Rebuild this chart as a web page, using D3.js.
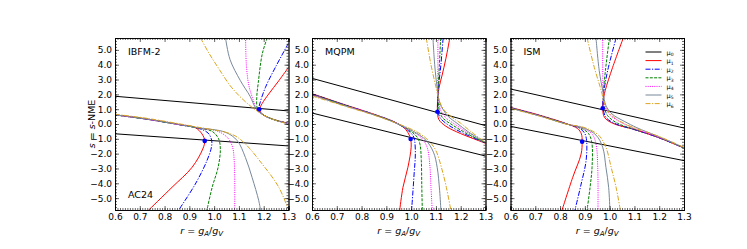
<!DOCTYPE html>
<html lang="en">
  <head>
    <meta charset="UTF-8" />
    <title>s-NME against gA/gV</title>
    <style>
      body {
        margin: 0;
        background: #fff;
      }
      svg {
        display: block;
        font-family: "DejaVu Sans", sans-serif;
      }
      .axis .domain {
        stroke: #000;
        stroke-width: 0.8;
      }
      .axis .tick line {
        stroke: #000;
        stroke-width: 0.6;
      }
      .axis text {
        font-family: "DejaVu Sans", sans-serif;
        font-size: 9px;
        fill: #000;
      }
    </style>
  </head>
  <body>
    <svg id="chart"></svg>
    <script src="https://d3js.org/d3.v7.min.js"></script>
    <script>
      // ticks and series
      const xTicks = [0.6, 0.7, 0.8, 0.9, 1.0, 1.1, 1.2, 1.3];
      const yTicks = [-5, -4, -3, -2, -1, 0, 1, 2, 3, 4, 5];
      const seriesLabels = ["0", "1", "2", "3", "4", "5", "6"];
      const seriesColors = ["#000", "red", "blue", "green", "#ff00ff", "lightslategray", "goldenrod"];
      const seriesDash = [null, null, "5,1.5,1.2,1.5", "3,1.3", "1,1.2", null, "5,1.5,1.2,1.5"];

      // IBFM-2 ([r, s])
      const ibfmMu0 = [
        [[0.6, 1.87], [1.3, 0.88]],
        [[0.6, -0.66], [1.3, -1.48]],
      ];
      const ibfmLower = [
        [[0.6, 0.62], [0.722, 0.35], [0.857, -0.03], [0.924, -0.25], [0.951, -0.67], [0.962, -1.14], [0.954, -1.69], [0.911, -2.92], [0.83, -4.27], [0.736, -5.8]],
        [[0.6, 0.61], [0.722, 0.34], [0.857, -0.04], [0.935, -0.28], [0.975, -0.6], [0.99, -1.1], [0.989, -1.57], [0.971, -2.47], [0.924, -4.05], [0.857, -5.8]],
        [[0.6, 0.61], [0.722, 0.34], [0.857, -0.04], [0.93, -0.26], [0.992, -0.5], [1.018, -1.0], [1.025, -1.69], [1.016, -2.92], [0.992, -4.27], [0.971, -5.8]],
        [[0.6, 0.61], [0.722, 0.34], [0.857, -0.04], [0.93, -0.25], [1.019, -0.52], [1.058, -1.0], [1.075, -1.6], [1.081, -2.5], [1.083, -3.5], [1.083, -5.8]],
        [[0.6, 0.62], [0.722, 0.35], [0.857, -0.03], [0.93, -0.24], [1.046, -0.56], [1.093, -1.12], [1.126, -2.25], [1.153, -3.6], [1.18, -5.17], [1.187, -5.8]],
        [[0.6, 0.66], [0.722, 0.4], [0.857, 0.02], [0.93, -0.2], [1.072, -0.7], [1.12, -1.25], [1.194, -2.7], [1.261, -4.27], [1.3, -5.8]],
      ];
      const ibfmUpper = [
        [[1.3, 3.82], [1.261, 2.92], [1.22, 2.02], [1.194, 1.39], [1.184, 0.99], [1.194, 0.67], [1.234, 0.34], [1.3, 0.05]],
        [[1.3, 5.45], [1.247, 3.82], [1.207, 2.47], [1.184, 1.35], [1.18, 0.9], [1.2, 0.6], [1.24, 0.3], [1.3, 0.04]],
        [[1.214, 5.8], [1.194, 4.72], [1.178, 2.78], [1.172, 1.8], [1.175, 1.0], [1.195, 0.66], [1.237, 0.32], [1.3, 0.03]],
        [[1.127, 5.8], [1.13, 4.0], [1.14, 2.6], [1.158, 1.6], [1.172, 0.95], [1.197, 0.64], [1.24, 0.3], [1.3, 0.02]],
        [[1.046, 5.8], [1.064, 4.35], [1.106, 2.92], [1.145, 1.87], [1.167, 1.1], [1.195, 0.64], [1.24, 0.29], [1.3, 0.01]],
        [[0.945, 5.8], [0.98, 4.75], [1.02, 3.7], [1.064, 2.6], [1.104, 1.85], [1.14, 1.3], [1.167, 0.95], [1.2, 0.6], [1.245, 0.27], [1.3, 0.0]],
      ];
      const ibfmDots = [[0.962, -1.14], [1.182, 0.99]];

      // MQPM
      const mqpmMu0 = [
        [[0.6, 3.08], [1.3, -0.11]],
        [[0.6, 0.74], [1.3, -2.16]],
      ];
      const mqpmLower = [
        [[0.6, 2.05], [0.718, 1.38], [0.853, 0.64], [0.934, 0.13], [0.974, -0.3], [0.99, -0.67], [0.998, -1.01], [1.0, -1.57], [0.987, -2.92], [0.967, -4.27], [0.954, -5.8]],
        [[0.6, 2.03], [0.718, 1.36], [0.853, 0.63], [0.934, 0.12], [0.985, -0.4], [1.008, -0.8], [1.014, -1.12], [1.017, -2.02], [1.012, -3.37], [1.002, -5.8]],
        [[0.6, 2.01], [0.718, 1.35], [0.853, 0.62], [0.934, 0.11], [0.995, -0.45], [1.025, -0.9], [1.036, -1.4], [1.041, -2.47], [1.043, -4.27], [1.045, -5.8]],
        [[0.6, 1.98], [0.718, 1.33], [0.853, 0.61], [0.934, 0.1], [1.005, -0.5], [1.045, -1.0], [1.065, -1.6], [1.075, -2.7], [1.08, -4.27], [1.085, -5.8]],
        [[0.6, 1.95], [0.718, 1.31], [0.853, 0.6], [0.934, 0.09], [1.015, -0.55], [1.06, -1.1], [1.09, -1.9], [1.105, -2.92], [1.115, -4.5], [1.12, -5.8]],
        [[0.6, 1.89], [0.718, 1.28], [0.853, 0.58], [0.934, 0.1], [1.03, -0.6], [1.075, -1.2], [1.1, -1.8], [1.122, -2.92], [1.142, -4.27], [1.16, -5.8]],
      ];
      const mqpmUpper = [
        [[1.156, 5.8], [1.14, 4.4], [1.125, 3.3], [1.112, 2.4], [1.107, 1.6], [1.106, 0.85], [1.112, 0.3], [1.14, -0.15], [1.2, -0.65], [1.25, -0.98], [1.3, -1.3]],
        [[1.129, 5.8], [1.12, 4.0], [1.11, 2.4], [1.107, 1.4], [1.11, 0.7], [1.12, 0.35], [1.155, -0.12], [1.21, -0.62], [1.3, -1.28]],
        [[1.119, 5.8], [1.114, 4.0], [1.109, 2.3], [1.11, 1.4], [1.115, 0.8], [1.128, 0.4], [1.165, -0.05], [1.22, -0.6], [1.3, -1.27]],
        [[1.108, 5.8], [1.108, 4.0], [1.108, 2.3], [1.113, 1.4], [1.12, 0.9], [1.138, 0.45], [1.175, 0.0], [1.225, -0.55], [1.3, -1.26]],
        [[1.088, 5.8], [1.095, 4.0], [1.106, 2.3], [1.116, 1.4], [1.13, 0.95], [1.15, 0.5], [1.185, 0.05], [1.23, -0.52], [1.3, -1.25]],
        [[1.061, 5.8], [1.08, 4.0], [1.1, 2.5], [1.115, 1.5], [1.135, 0.9], [1.165, 0.45], [1.2, 0.05], [1.24, -0.5], [1.3, -1.24]],
      ];
      const mqpmDots = [[0.998, -1.01], [1.106, 0.83]];

      // ISM
      const ismMu0 = [
        [[0.6, 2.36], [1.3, -0.27]],
        [[0.6, -0.16], [1.3, -2.47]],
      ];
      const ismLower = [
        [[0.6, 1.12], [0.716, 0.6], [0.824, 0.03], [0.87, -0.3], [0.886, -0.67], [0.889, -1.19], [0.885, -2.02], [0.851, -3.6], [0.808, -5.8]],
        [[0.6, 1.1], [0.716, 0.58], [0.824, 0.02], [0.88, -0.3], [0.9, -0.65], [0.907, -1.12], [0.905, -2.47], [0.885, -4.05], [0.86, -5.8]],
        [[0.6, 1.09], [0.716, 0.57], [0.824, 0.01], [0.885, -0.28], [0.915, -0.65], [0.928, -1.24], [0.929, -2.92], [0.921, -4.27], [0.909, -5.8]],
        [[0.6, 1.08], [0.716, 0.56], [0.824, 0.01], [0.89, -0.27], [0.93, -0.7], [0.945, -1.35], [0.952, -2.92], [0.953, -5.8]],
        [[0.6, 1.07], [0.716, 0.55], [0.824, 0.0], [0.895, -0.26], [0.945, -0.75], [0.972, -1.57], [0.985, -2.92], [0.996, -4.27], [1.001, -5.8]],
        [[0.6, 1.04], [0.716, 0.54], [0.824, 0.0], [0.9, -0.25], [0.955, -0.75], [0.985, -1.57], [1.006, -2.92], [1.026, -4.27], [1.043, -5.8]],
      ];
      const ismUpper = [
        [[1.055, 5.8], [1.012, 3.82], [0.982, 2.25], [0.974, 1.57], [0.972, 1.06], [0.979, 0.45], [1.012, 0.05], [1.093, -0.34], [1.187, -0.85], [1.3, -1.62]],
        [[1.026, 5.8], [0.992, 3.6], [0.976, 2.1], [0.973, 1.24], [0.985, 0.45], [1.026, 0.0], [1.1, -0.38], [1.19, -0.87], [1.3, -1.62]],
        [[0.999, 5.8], [0.983, 3.6], [0.975, 2.1], [0.977, 1.24], [0.992, 0.56], [1.032, 0.05], [1.1, -0.36], [1.19, -0.86], [1.3, -1.61]],
        [[0.972, 5.8], [0.972, 3.6], [0.974, 2.1], [0.981, 1.24], [1.002, 0.61], [1.046, 0.11], [1.1, -0.3], [1.19, -0.84], [1.3, -1.6]],
        [[0.945, 5.8], [0.958, 3.6], [0.974, 2.1], [0.985, 1.24], [1.01, 0.67], [1.059, 0.18], [1.11, -0.25], [1.19, -0.8], [1.3, -1.59]],
        [[0.909, 5.8], [0.938, 3.82], [0.966, 2.25], [0.976, 1.57], [0.992, 0.9], [1.026, 0.34], [1.093, -0.22], [1.19, -0.78], [1.3, -1.57]],
      ];
      const ismDots = [[0.889, -1.19], [0.972, 1.06]];

      const panels = [
        { title: "IBFM-2", note: "AC24", mu0: ibfmMu0, lower: ibfmLower, upper: ibfmUpper, dots: ibfmDots },
        { title: "MQPM", mu0: mqpmMu0, lower: mqpmLower, upper: mqpmUpper, dots: mqpmDots },
        { title: "ISM", mu0: ismMu0, lower: ismLower, upper: ismUpper, dots: ismDots, legend: true },
      ];

      const width = 747;
      const height = 249;
      const plotTop = 38;
      const plotBottom = 210;
      const panelW = 173.5;
      const panelH = plotBottom - plotTop;
      const lefts = [115, 312, 510.5];

      const svg = d3.select("#chart").attr("width", width).attr("height", height);

      const x = d3.scaleLinear().domain([0.6, 1.3]).range([0, panelW]);
      const y = d3.scaleLinear().domain([-5.8, 5.8]).range([panelH, 0]);
      const line = d3
        .line()
        .x((d) => x(d[0]))
        .y((d) => y(d[1]))
        .curve(d3.curveCatmullRom.alpha(0.5));

      const xMinor = d3.range(60, 131).map((v) => v / 100);
      const yMinor = d3.range(-29, 30).map((v) => v / 5);

      panels.forEach((p, i) => {
        const g = svg.append("g").attr("transform", `translate(${lefts[i]},${plotTop})`);

        g.append("clipPath")
          .attr("id", "clip" + i)
          .append("rect")
          .attr("width", panelW)
          .attr("height", panelH);

        const plot = g.append("g").attr("clip-path", `url(#clip${i})`);

        p.mu0.forEach((seg) => {
          plot.append("path").attr("d", line(seg)).attr("fill", "none").attr("stroke", "#000").attr("stroke-width", 1);
        });

        [p.lower, p.upper].forEach((branch) => {
          branch.forEach((pts, k) => {
            plot
              .append("path")
              .attr("d", line(pts))
              .attr("fill", "none")
              .attr("stroke", seriesColors[k + 1])
              .attr("stroke-width", 1)
              .attr("stroke-dasharray", seriesDash[k + 1]);
          });
        });

        plot
          .selectAll("circle")
          .data(p.dots)
          .enter()
          .append("circle")
          .attr("cx", (d) => x(d[0]))
          .attr("cy", (d) => y(d[1]))
          .attr("r", 2.3)
          .attr("fill", "blue");

        // axes, ticks pointing inward
        g.append("g")
          .attr("class", "axis")
          .attr("transform", `translate(0,${panelH})`)
          .call(d3.axisBottom(x).tickValues(xTicks).tickSize(-4).tickPadding(4).tickFormat(d3.format(".1f")));
        g.append("g")
          .attr("class", "axis")
          .attr("transform", `translate(0,${panelH})`)
          .call(d3.axisBottom(x).tickValues(xMinor).tickSize(-2).tickFormat(""));
        g.append("g")
          .attr("class", "axis")
          .call(d3.axisTop(x).tickValues(xTicks).tickSize(-4).tickFormat(""));
        g.append("g")
          .attr("class", "axis")
          .call(d3.axisTop(x).tickValues(xMinor).tickSize(-2).tickFormat(""));
        g.append("g")
          .attr("class", "axis")
          .call(d3.axisLeft(y).tickValues(yTicks).tickSize(-4).tickPadding(3).tickFormat(d3.format(".1f")));
        g.append("g")
          .attr("class", "axis")
          .call(d3.axisLeft(y).tickValues(yMinor).tickSize(-2).tickFormat(""));
        g.append("g")
          .attr("class", "axis")
          .attr("transform", `translate(${panelW},0)`)
          .call(d3.axisRight(y).tickValues(yTicks).tickSize(-4).tickFormat(""));
        g.append("g")
          .attr("class", "axis")
          .attr("transform", `translate(${panelW},0)`)
          .call(d3.axisRight(y).tickValues(yMinor).tickSize(-2).tickFormat(""));

        g.append("text").attr("x", 13).attr("y", 17).attr("font-size", 9.5).text(p.title);
        if (p.note) {
          g.append("text").attr("x", 13).attr("y", 160).attr("font-size", 9.5).text(p.note);
        }

        // x label: r = gA/gV
        const xl = g
          .append("text")
          .attr("x", panelW / 2)
          .attr("y", panelH + 24)
          .attr("text-anchor", "middle")
          .attr("font-size", 9.5);
        xl.append("tspan").attr("font-style", "italic").text("r");
        xl.append("tspan").text(" = ");
        xl.append("tspan").attr("font-style", "italic").text("g");
        xl.append("tspan").attr("font-style", "italic").attr("font-size", 7).attr("dy", 2).text("A");
        xl.append("tspan").attr("dy", -2).text("/");
        xl.append("tspan").attr("font-style", "italic").text("g");
        xl.append("tspan").attr("font-style", "italic").attr("font-size", 7).attr("dy", 2).text("V");

        if (p.legend) {
          const lg = g.append("g").attr("transform", "translate(135,14)");
          seriesLabels.forEach((s, k) => {
            const row = lg.append("g").attr("transform", `translate(0,${k * 8.6})`);
            row.append("line")
              .attr("x1", 0)
              .attr("x2", 16)
              .attr("stroke", seriesColors[k])
              .attr("stroke-width", 1)
              .attr("stroke-dasharray", seriesDash[k]);
            const t = row.append("text").attr("x", 21).attr("y", 2.5).attr("font-size", 6.5);
            t.append("tspan").text("μ");
            t.append("tspan").attr("font-size", 4.5).attr("dy", 1.5).text(s);
          });
        }
      });

      // y label: s = s-NME
      const yl = svg
        .append("text")
        .attr("transform", `translate(95,${plotTop + panelH / 2}) rotate(-90)`)
        .attr("text-anchor", "middle")
        .attr("font-size", 9.5);
      yl.append("tspan").attr("font-style", "italic").text("s");
      yl.append("tspan").text(" = ");
      yl.append("tspan").attr("font-style", "italic").text("s");
      yl.append("tspan").text("-NME");
    </script>
  </body>
</html>
